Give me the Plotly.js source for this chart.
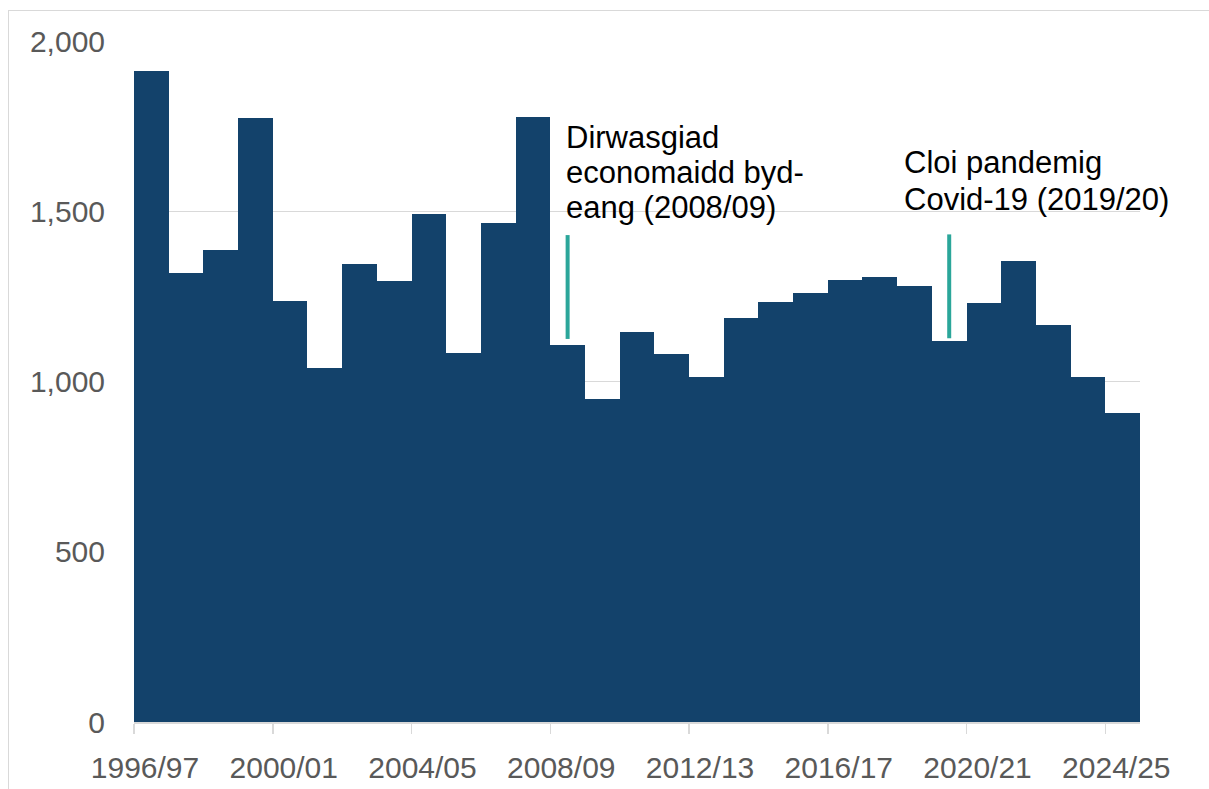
<!DOCTYPE html>
<html>
<head>
<meta charset="utf-8">
<script src="https://cdn.plot.ly/plotly-3.0.1.min.js"></script>
<style>
  html, body { margin: 0; padding: 0; background: #ffffff; }
  #wrap { position: relative; width: 1209px; height: 789px; overflow: hidden; }
  #frame { position: absolute; left: 8px; top: 10px; width: 1400px; height: 1000px;
           border-left: 1.5px solid #d9d9d9; border-top: 1.5px solid #d9d9d9; pointer-events: none; }
  #chart { position: absolute; left: 0; top: 0; width: 1209px; height: 789px; }
</style>
</head>
<body>
<div id="wrap">
  <div id="chart"></div>
  <div id="frame"></div>
</div>
<script>
// Financial years (categories)
const years = [
  "1996/97","1997/98","1998/99","1999/00","2000/01","2001/02","2002/03","2003/04",
  "2004/05","2005/06","2006/07","2007/08","2008/09","2009/10","2010/11","2011/12",
  "2012/13","2013/14","2014/15","2015/16","2016/17","2017/18","2018/19","2019/20",
  "2020/21","2021/22","2022/23","2023/24","2024/25"
];
// Values
const values = [
  1913, 1318, 1386, 1774, 1235, 1040, 1345, 1296,
  1493, 1085, 1465, 1778, 1108, 950, 1145, 1081,
  1014, 1186, 1233, 1260, 1297, 1307, 1281, 1119,
  1232, 1353, 1165, 1013, 907
];
// Events marked with vertical lines
const eventYears = ["2008/09", "2019/20"];
const eventLow  = [1125, 1127];
const eventHigh = [1430, 1432];
const eventLabels = [
  ["Dirwasgiad", "economaidd byd-", "eang (2008/09)"],
  ["Cloi pandemig", "Covid-19 (2019/20)"]
];
const yTicks = [0, 500, 1000, 1500, 2000];
const yTickText = ["0", "500", "1,000", "1,500", "2,000"];
const labelEvery = 4;

const idx = years.map((_, i) => i);
const tickIdx = idx.filter(i => i % labelEvery === 0);

const traces = [{
  type: "bar",
  x: idx,
  y: values,
  marker: { color: "#13426b", line: { width: 0 } },
  hoverinfo: "skip",
  showlegend: false
}];

eventYears.forEach((ey, k) => {
  const xi = years.indexOf(ey);
  traces.push({
    type: "scatter", mode: "lines",
    x: [xi, xi], y: [eventLow[k], eventHigh[k]],
    line: { color: "#2ba69a", width: 4 },
    hoverinfo: "skip", showlegend: false
  });
});

// Text annotations (one per line for tight line spacing)
const textLeft = [565, 903];
const textBase = [[137, 172, 207], [163, 199]];
const L = 134, R = 1140, T = 41, B = 722;
const annotations = [];
eventLabels.forEach((lines, k) => {
  lines.forEach((t, j) => {
    annotations.push({
      xref: "paper", yref: "paper",
      x: (textLeft[k] - L) / (R - L),
      y: (B - textBase[k][j]) / (B - T),
      xanchor: "left", yanchor: "middle",
      text: t, showarrow: false,
      font: { family: "Liberation Sans, Arial, sans-serif", size: 31, color: "#000000" },
      borderpad: 0
    });
  });
});

const layout = {
  width: 1209, height: 789,
  margin: { l: L, r: 1209 - R, t: T, b: 789 - B, pad: 0 },
  paper_bgcolor: "rgba(0,0,0,0)",
  plot_bgcolor: "#ffffff",
  bargap: 0,
  font: { family: "Liberation Sans, Arial, sans-serif", color: "#595959" },
  xaxis: {
    type: "linear",
    range: [-0.5, years.length - 0.5],
    tickmode: "array",
    tickvals: tickIdx.map(i => i - 0.5),
    ticktext: tickIdx.map(i => years[i]),
    ticks: "outside", ticklen: 10, tickwidth: 1.5, tickcolor: "#d9d9d9",
    showline: true, linecolor: "#d9d9d9", linewidth: 1.5,
    showgrid: false, zeroline: false,
    ticklabelshift: 11,
    ticklabelstandoff: 8,
    tickfont: { size: 30, color: "#595959" },
    fixedrange: true
  },
  yaxis: {
    range: [0, 2000],
    tickmode: "array",
    tickvals: yTicks,
    ticktext: yTickText,
    ticks: "",
    showgrid: true, gridcolor: "#d9d9d9", gridwidth: 1.5,
    zeroline: false, showline: false,
    ticklabelstandoff: 28,
    tickfont: { size: 30, color: "#595959" },
    fixedrange: true
  },
  annotations: annotations
};

Plotly.newPlot("chart", traces, layout, { displayModeBar: false, staticPlot: true });
</script>
</body>
</html>
